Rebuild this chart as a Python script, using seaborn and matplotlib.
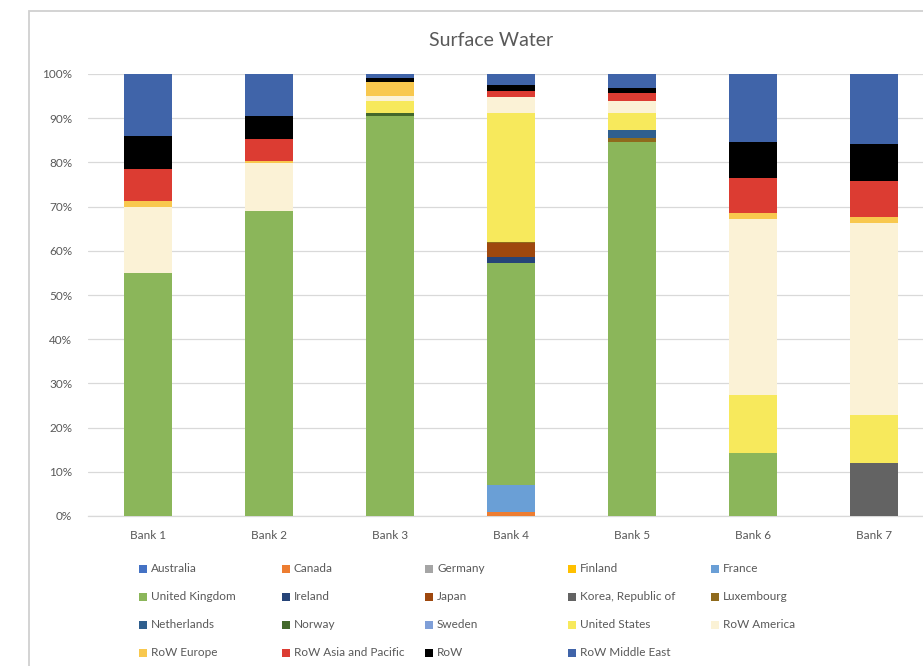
import matplotlib
matplotlib.use("Agg")
import matplotlib.pyplot as plt
from matplotlib.patches import Rectangle
import seaborn as sns
import numpy as np

# Categories
banks = ["Bank 1", "Bank 2", "Bank 3", "Bank 4", "Bank 5", "Bank 6", "Bank 7"]

# Share of surface water footprint by country/region (%), one list per series
australia        = [0.0, 0.0, 0.0, 0.0, 0.0, 0.0, 0.0]
canada           = [0.0, 0.0, 0.0, 0.9, 0.0, 0.0, 0.0]
germany          = [0.0, 0.0, 0.0, 0.0, 0.0, 0.0, 0.0]
finland          = [0.0, 0.0, 0.0, 0.0, 0.0, 0.0, 0.0]
france           = [0.0, 0.0, 0.0, 6.1, 0.0, 0.0, 0.0]
united_kingdom   = [55.0, 69.1, 90.4, 50.2, 84.6, 14.2, 0.0]
ireland          = [0.0, 0.0, 0.0, 1.5, 0.0, 0.0, 0.0]
japan            = [0.0, 0.0, 0.0, 3.0, 0.0, 0.0, 0.0]
korea            = [0.0, 0.0, 0.0, 0.0, 0.0, 0.0, 12.1]
luxembourg       = [0.0, 0.0, 0.0, 0.4, 1.0, 0.0, 0.0]
netherlands      = [0.0, 0.0, 0.0, 0.0, 1.8, 0.0, 0.0]
norway           = [0.0, 0.0, 0.7, 0.0, 0.0, 0.0, 0.0]
sweden           = [0.0, 0.0, 0.0, 0.0, 0.0, 0.0, 0.0]
united_states    = [0.0, 0.0, 2.9, 29.0, 3.7, 13.2, 10.8]
row_america      = [15.0, 10.7, 1.0, 3.6, 2.9, 39.9, 43.3]
row_europe       = [1.3, 0.6, 3.3, 0.0, 0.0, 1.2, 1.4]
row_asia_pacific = [7.2, 4.9, 0.0, 1.5, 1.8, 7.9, 8.3]
row              = [7.5, 5.2, 0.7, 1.3, 1.1, 8.3, 8.3]
row_middle_east  = [14.0, 9.5, 1.0, 2.5, 3.1, 15.3, 15.8]

series_names = ["Australia", "Canada", "Germany", "Finland", "France",
                "United Kingdom", "Ireland", "Japan", "Korea, Republic of", "Luxembourg",
                "Netherlands", "Norway", "Sweden", "United States", "RoW America",
                "RoW Europe", "RoW Asia and Pacific", "RoW", "RoW Middle East"]
series_values = [australia, canada, germany, finland, france,
                 united_kingdom, ireland, japan, korea, luxembourg,
                 netherlands, norway, sweden, united_states, row_america,
                 row_europe, row_asia_pacific, row, row_middle_east]
series_colors = ["#4472C4", "#ED7D31", "#A5A5A5", "#FFC000", "#6A9FD6",
                 "#8BB65A", "#264478", "#9E480E", "#636363", "#8F6A1C",
                 "#2F5F8E", "#43682B", "#7F9FD8", "#F7E95C", "#FBF2D6",
                 "#F8C84E", "#DC3C32", "#000000", "#4064A9"]

text_color = "#595959"
grid_color = "#D9D9D9"

sns.set_theme(style="white")
plt.rcParams["font.family"] = ["Lato", "DejaVu Sans"]

fig = plt.figure(figsize=(9.23, 6.66), dpi=100)
fig.patch.set_facecolor("white")

# Chart-area border
fig.patches.append(Rectangle((29 / 923, -0.2), 1.2, 0.2 + (666 - 11) / 666,
                             transform=fig.transFigure, fill=False,
                             edgecolor="#D0D0D0", linewidth=1.3, zorder=0))

ax = fig.add_axes([87.5 / 923, 150 / 666, 847 / 923, 442 / 666])
ax.set_facecolor("none")

bottom = np.zeros(len(banks))
for name, vals, col in zip(series_names, series_values, series_colors):
    vals = np.asarray(vals, dtype=float)
    sns.barplot(x=banks, y=vals, bottom=bottom, color=col, saturation=1,
                width=0.4, linewidth=0, ax=ax, zorder=3)
    bottom += vals

ax.set_xlim(-0.5, 6.5)
ax.set_ylim(0, 100)
ax.set_yticks(np.arange(0, 101, 10))
ax.set_yticklabels([f"{v}%" for v in range(0, 101, 10)])
ax.yaxis.grid(True, color=grid_color, linewidth=0.9, zorder=0)
ax.set_axisbelow(True)
for s in ["top", "right", "left"]:
    ax.spines[s].set_visible(False)
ax.spines["bottom"].set_color(grid_color)
ax.spines["bottom"].set_linewidth(0.9)
ax.tick_params(axis="both", length=0, labelsize=8.5, labelcolor=text_color)
ax.tick_params(axis="y", pad=11)
ax.tick_params(axis="x", pad=10)
ax.set_xlabel("")
ax.set_ylabel("")

fig.text(491 / 923, 1 - 40 / 666, "Surface Water", ha="center", va="center",
         fontsize=14, color=text_color)

# Legend laid out row by row, five entries per row
col_x = [139, 282, 425, 568, 711]
row_y = [569, 597, 625, 653]
sq = 8
for i, (name, col) in enumerate(zip(series_names, series_colors)):
    r, c = divmod(i, 5)
    x0 = col_x[c]
    yc = row_y[r]
    fig.patches.append(Rectangle((x0 / 923, 1 - (yc + sq / 2) / 666), sq / 923, sq / 666,
                                 transform=fig.transFigure, facecolor=col,
                                 edgecolor="none"))
    fig.text((x0 + 12) / 923, 1 - yc / 666, name, ha="left", va="center",
             fontsize=8.5, color=text_color)

fig.savefig("out.png", dpi=100)
